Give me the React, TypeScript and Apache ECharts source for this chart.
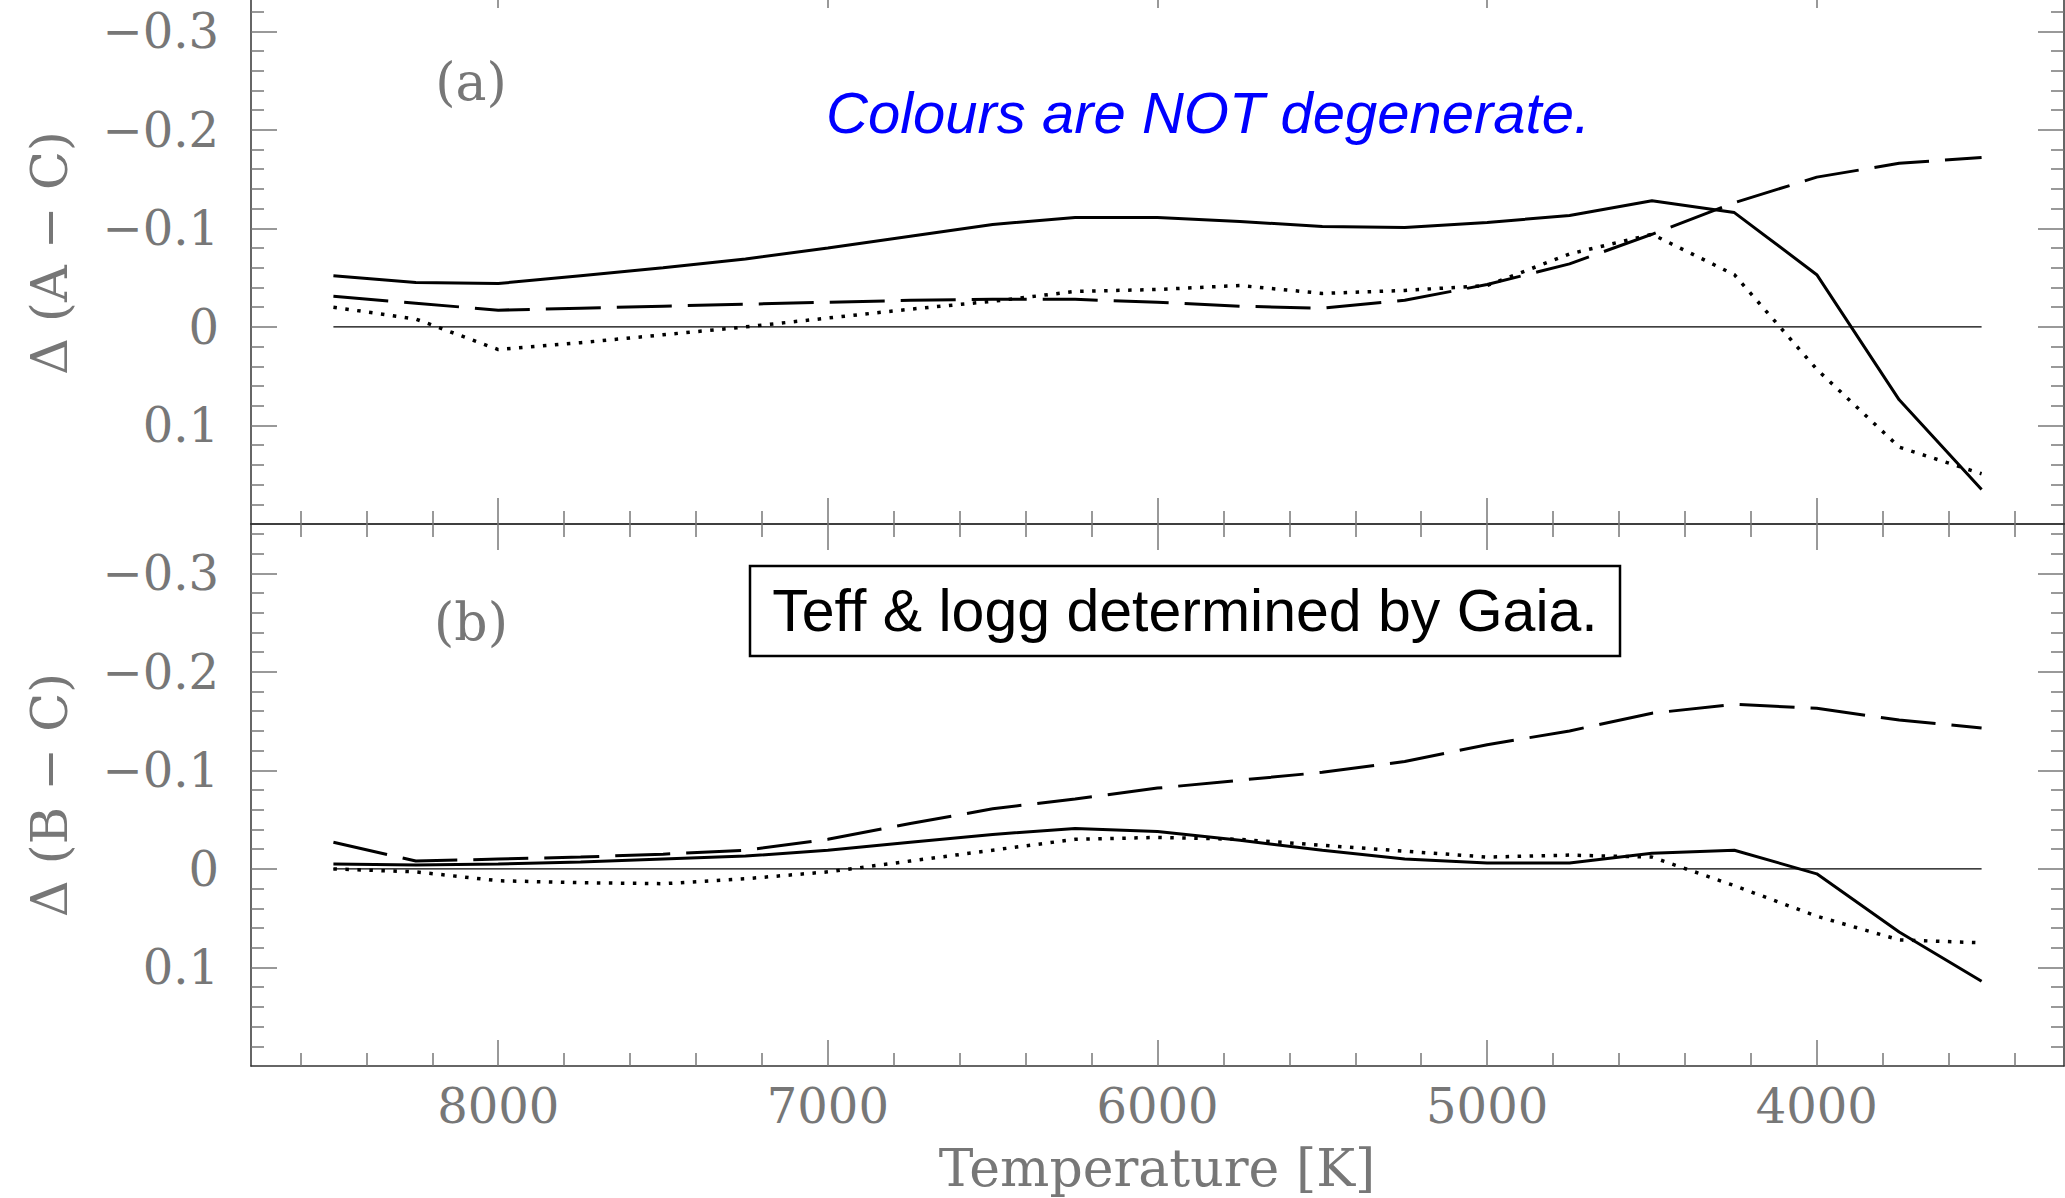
import React, { useEffect, useRef } from "react";
import * as echarts from "echarts";

// Effective temperatures [K]
const temperatures = [8500, 8250, 8000, 7750, 7500, 7250, 7000, 6750, 6500, 6250, 6000, 5750, 5500, 5250, 5000, 4750, 4500, 4250, 4000, 3750, 3500];

// Panel (a): Δ(A − C)
const aSolid = [-0.052, -0.045, -0.044, -0.052, -0.06, -0.069, -0.08, -0.092, -0.104, -0.111, -0.111, -0.107, -0.102, -0.101, -0.106, -0.113, -0.128, -0.116, -0.053, 0.074, 0.165];
const aDashed = [-0.031, -0.024, -0.017, -0.019, -0.021, -0.023, -0.025, -0.027, -0.028, -0.028, -0.025, -0.021, -0.019, -0.027, -0.043, -0.064, -0.094, -0.126, -0.152, -0.166, -0.172];
const aDotted = [-0.02, -0.008, 0.023, 0.016, 0.008, 0.0, -0.009, -0.018, -0.026, -0.036, -0.038, -0.042, -0.034, -0.037, -0.042, -0.074, -0.094, -0.053, 0.043, 0.122, 0.149];

// Panel (b): Δ(B − C)
const bSolid = [-0.005, -0.004, -0.005, -0.007, -0.01, -0.013, -0.019, -0.027, -0.035, -0.041, -0.038, -0.029, -0.019, -0.01, -0.006, -0.006, -0.016, -0.019, 0.005, 0.064, 0.114];
const bDashed = [-0.027, -0.008, -0.01, -0.012, -0.015, -0.019, -0.03, -0.046, -0.061, -0.071, -0.082, -0.09, -0.098, -0.109, -0.126, -0.14, -0.158, -0.167, -0.163, -0.151, -0.143];
const bDotted = [0.0, 0.003, 0.012, 0.014, 0.015, 0.01, 0.003, -0.008, -0.019, -0.03, -0.032, -0.03, -0.024, -0.018, -0.012, -0.014, -0.012, 0.017, 0.048, 0.072, 0.075];

// Reference zero line
const zeroLineX = [8500, 3500];
const zeroLineY = [0, 0];

// Ticks
const xMajorTicks = [8000, 7000, 6000, 5000, 4000];
const xMinorTicks = [8600, 8400, 8200, 7800, 7600, 7400, 7200, 6800, 6600, 6400, 6200, 5800, 5600, 5400, 5200, 4800, 4600, 4400, 4200, 3800, 3600, 3400];
const yMajorTicks = [-0.3, -0.2, -0.1, 0, 0.1];
const yMinorTicks = [-0.34, -0.32, -0.28, -0.26, -0.24, -0.22, -0.18, -0.16, -0.14, -0.12, -0.08, -0.06, -0.04, -0.02, 0.02, 0.04, 0.06, 0.08, 0.12, 0.14, 0.16, 0.18];

const xRange = [3250, 8750];
const yRange = [-0.35, 0.2];

const panelTexts = ["(a)", "(b)"];
const yTitles = ["\u0394 (A \u2212 C)", "\u0394 (B \u2212 C)"];
const xTitle = "Temperature [K]";
const noteBlue = "Colours are NOT degenerate.";
const noteBox = "Teff & logg determined by Gaia.";

const SERIF = "'DejaVu Serif', 'Liberation Serif', serif";
const SANS = "'Liberation Sans', Arial, sans-serif";
const LABEL_GRAY = "#777";
const AXIS_COLOR = "#333";
const TICK_COLOR = "#777";

function makeXAxes(gridIndex: number, showLabels: boolean) {
  const base = {
    type: "value",
    gridIndex,
    min: xRange[0],
    max: xRange[1],
    inverse: true,
    splitLine: { show: false },
  };
  const res: any[] = [];
  (["bottom", "top"] as const).forEach((pos) => {
    res.push({
      ...base,
      position: pos,
      axisLine: { show: true, onZero: false, lineStyle: { color: AXIS_COLOR, width: 1.5 } },
      axisTick: { show: true, inside: true, length: 26, customValues: xMajorTicks, lineStyle: { color: TICK_COLOR, width: 1.5 } },
      axisLabel: {
        show: showLabels && pos === "bottom",
        customValues: xMajorTicks,
        formatter: (v: number) => String(Math.round(v)),
        margin: 16,
        color: LABEL_GRAY,
        fontFamily: SERIF,
        fontSize: 48,
        lineHeight: 48,
      },
    });
    res.push({
      ...base,
      position: pos,
      axisLine: { show: false, onZero: false },
      axisTick: { show: true, inside: true, length: 13, customValues: xMinorTicks, lineStyle: { color: TICK_COLOR, width: 1.5 } },
      axisLabel: { show: false },
    });
  });
  return res;
}

function fmtY(v: number) {
  if (Math.abs(v) < 1e-9) return "0";
  return (v < 0 ? "\u2212" : "") + Math.abs(v).toFixed(1);
}

function makeYAxes(gridIndex: number) {
  const base = {
    type: "value",
    gridIndex,
    min: yRange[0],
    max: yRange[1],
    inverse: true,
    splitLine: { show: false },
  };
  const res: any[] = [];
  (["left", "right"] as const).forEach((pos) => {
    res.push({
      ...base,
      position: pos,
      axisLine: { show: true, onZero: false, lineStyle: { color: AXIS_COLOR, width: 1.5 } },
      axisTick: { show: true, inside: true, length: 26, customValues: yMajorTicks, lineStyle: { color: TICK_COLOR, width: 1.5 } },
      axisLabel: {
        show: pos === "left",
        customValues: yMajorTicks,
        formatter: fmtY,
        margin: 32,
        color: LABEL_GRAY,
        fontFamily: SERIF,
        fontSize: 48,
      },
    });
    res.push({
      ...base,
      position: pos,
      axisLine: { show: false, onZero: false },
      axisTick: { show: true, inside: true, length: 13, customValues: yMinorTicks, lineStyle: { color: TICK_COLOR, width: 1.5 } },
      axisLabel: { show: false },
    });
  });
  return res;
}

function pairs(xs: number[], ys: number[]) {
  return xs.map((x, i) => [x, ys[i]]);
}

function panelSeries(gridIdx: number, solid: number[], dashed: number[], dotted: number[]) {
  const xi = gridIdx * 4;
  const yi = gridIdx * 4;
  const common = { type: "line", xAxisIndex: xi, yAxisIndex: yi, symbol: "none", showSymbol: false, silent: true };
  return [
    { ...common, name: "zero" + gridIdx, data: pairs(zeroLineX, zeroLineY), lineStyle: { color: "#000", width: 1.3, type: "solid" } },
    { ...common, name: "dotted" + gridIdx, data: pairs(temperatures, dotted), lineStyle: { color: "#000", width: 3.5, type: [3.5, 8.5] } },
    { ...common, name: "dashed" + gridIdx, data: pairs(temperatures, dashed), lineStyle: { color: "#000", width: 3, type: [55, 16] } },
    { ...common, name: "solid" + gridIdx, data: pairs(temperatures, solid), lineStyle: { color: "#000", width: 3, type: "solid" } },
  ];
}

export default function App() {
  const ref = useRef<HTMLDivElement>(null);
  useEffect(() => {
    if (!ref.current) return;
    const chart = echarts.init(ref.current, null, { renderer: "svg" });
    const option: any = {
      animation: false,
      backgroundColor: "#fff",
      grid: [
        { left: 251, top: 0, width: 1813, height: 542, containLabel: false },
        { left: 251, top: 542, width: 1813, height: 542, containLabel: false },
      ],
      xAxis: [...makeXAxes(0, false), ...makeXAxes(1, true)],
      yAxis: [...makeYAxes(0), ...makeYAxes(1)],
      series: [...panelSeries(0, aSolid, aDashed, aDotted), ...panelSeries(1, bSolid, bDashed, bDotted)],
      graphic: [
        { type: "text", x: 471, y: 100, style: { text: panelTexts[0], font: `52px ${SERIF}`, fill: LABEL_GRAY, align: "center", verticalAlign: "middle" } },
        { type: "text", x: 471, y: 640, style: { text: panelTexts[1], font: `52px ${SERIF}`, fill: LABEL_GRAY, align: "center", verticalAlign: "middle" } },
        { type: "text", x: 49, y: 271, rotation: Math.PI / 2, style: { text: yTitles[0], font: `51px ${SERIF}`, fill: LABEL_GRAY, align: "center", verticalAlign: "middle" } },
        { type: "text", x: 49, y: 813, rotation: Math.PI / 2, style: { text: yTitles[1], font: `51px ${SERIF}`, fill: LABEL_GRAY, align: "center", verticalAlign: "middle" } },
        { type: "text", x: 1157, y: 1186, style: { text: xTitle, font: `52px ${SERIF}`, fill: LABEL_GRAY, align: "center", verticalAlign: "middle" } },
        { type: "text", x: 826, y: 130, style: { text: noteBlue, font: `italic 58px ${SANS}`, fill: "#0000ff", align: "left", verticalAlign: "middle" } },
        { type: "rect", shape: { x: 750, y: 584, width: 870, height: 90 }, style: { fill: "#fff", stroke: "#000", lineWidth: 2.5 }, z: 10 },
        { type: "text", x: 1185, y: 629, z: 11, style: { text: noteBox, font: `59px ${SANS}`, fill: "#000", align: "center", verticalAlign: "middle" } },
      ],
    };
    chart.setOption(option);
    return () => chart.dispose();
  }, []);
  return (
    <div
      ref={ref}
      style={{ position: "fixed", left: 0, top: -18, width: 2065, height: 1216, background: "#fff" }}
    />
  );
}
